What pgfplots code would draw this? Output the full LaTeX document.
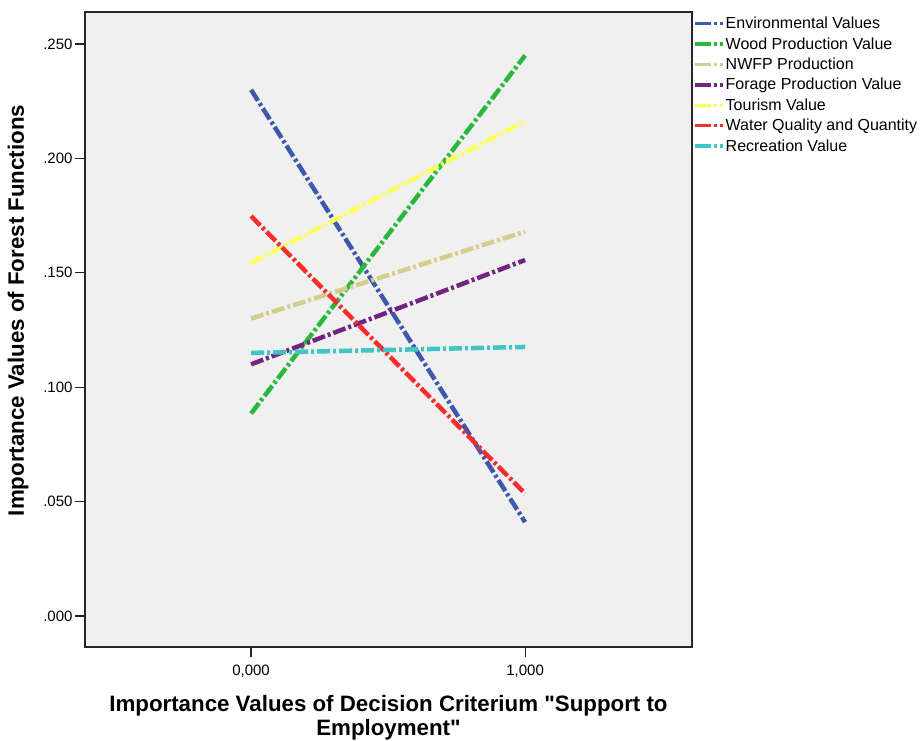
\documentclass[border=0pt]{standalone}
\usepackage{pgfplots}
\pgfplotsset{compat=1.18}
\usepackage{fontspec}
\setmainfont{Liberation Sans}[Ligatures=TeXOff]
\definecolor{bgc}{RGB}{240,240,240}
\definecolor{cEnv}{RGB}{62,88,172}
\definecolor{cWood}{RGB}{40,184,60}
\definecolor{cNWFP}{RGB}{212,206,140}
\definecolor{cForage}{RGB}{115,35,128}
\definecolor{cTour}{RGB}{255,255,90}
\definecolor{cWater}{RGB}{245,45,45}
\definecolor{cRec}{RGB}{64,196,196}
\begin{document}
\begin{tikzpicture}[x=1pt,y=1pt]
\path[use as bounding box] (-85,-93) rectangle (838,647);
\begin{axis}[
  scale only axis, width=607pt, height=635pt,
  at={(0,0)}, anchor=south west,
  xmin=-0.606, xmax=1.609,
  ymin=-0.01355, ymax=0.2640,
  axis background/.style={fill=bgc},
  axis line style={black!85, line width=1.2pt},
  tick pos=left, tick align=outside,
  major tick length=10pt,
  every tick/.style={black!85, line width=1.2pt},
  xtick={0,1}, xticklabels={{0,000},{1,000}},
  xticklabel style={font=\fontsize{15}{18}\selectfont, yshift=-4pt},
  ytick={0,0.05,0.1,0.15,0.2,0.25},
  yticklabels={.000,.050,.100,.150,.200,.250},
  yticklabel style={font=\fontsize{15}{18}\selectfont, xshift=1pt},
  xlabel={Importance Values of Decision Criterium "Support to\\Employment"},
  xlabel style={font=\fontsize{22.3}{23.5}\selectfont\bfseries, align=center, at={(axis description cs:0.5,0)}, anchor=north, yshift=-45pt},
  ylabel={Importance Values of Forest Functions},
  ylabel style={font=\fontsize{22.3}{24}\selectfont\bfseries, at={(axis description cs:-0.11,0.53)}, anchor=center},
  clip=false,
  legend style={at={(rel axis cs:1,1)}, anchor=north west, xshift=1pt, yshift=-4pt,
    draw=none, fill=none, font=\fontsize{16}{17}\selectfont,
    inner xsep=0pt, inner ysep=0pt, row sep=5.3pt,
    nodes={inner sep=1pt, anchor=west}},
  legend cell align=left,
  legend image code/.code={\draw[#1, line width=3.5pt, dash pattern=on 16pt off 3pt on 3pt off 3pt on 3pt off 10pt] (0pt,0pt) -- (28pt,0pt);},
  every axis plot/.append style={line width=4.5pt, dash pattern=on 13pt off 3pt on 3pt off 3pt},
]
\addplot[cEnv] coordinates {(0,0.2300) (1,0.0410)};
\addlegendentry{Environmental Values}
\addplot[cWood] coordinates {(0,0.0885) (1,0.2450)};
\addlegendentry{Wood Production Value}
\addplot[cNWFP] coordinates {(0,0.1300) (1,0.1680)};
\addlegendentry{NWFP Production}
\addplot[cForage] coordinates {(0,0.1100) (1,0.1556)};
\addlegendentry{Forage Production Value}
\addplot[cTour] coordinates {(0,0.1543) (1,0.2163)};
\addlegendentry{Tourism Value}
\addplot[cWater] coordinates {(0,0.1748) (1,0.0535)};
\addlegendentry{Water Quality and Quantity}
\addplot[cRec] coordinates {(0,0.1150) (1,0.1176)};
\addlegendentry{Recreation Value}
\end{axis}
\end{tikzpicture}
\end{document}
